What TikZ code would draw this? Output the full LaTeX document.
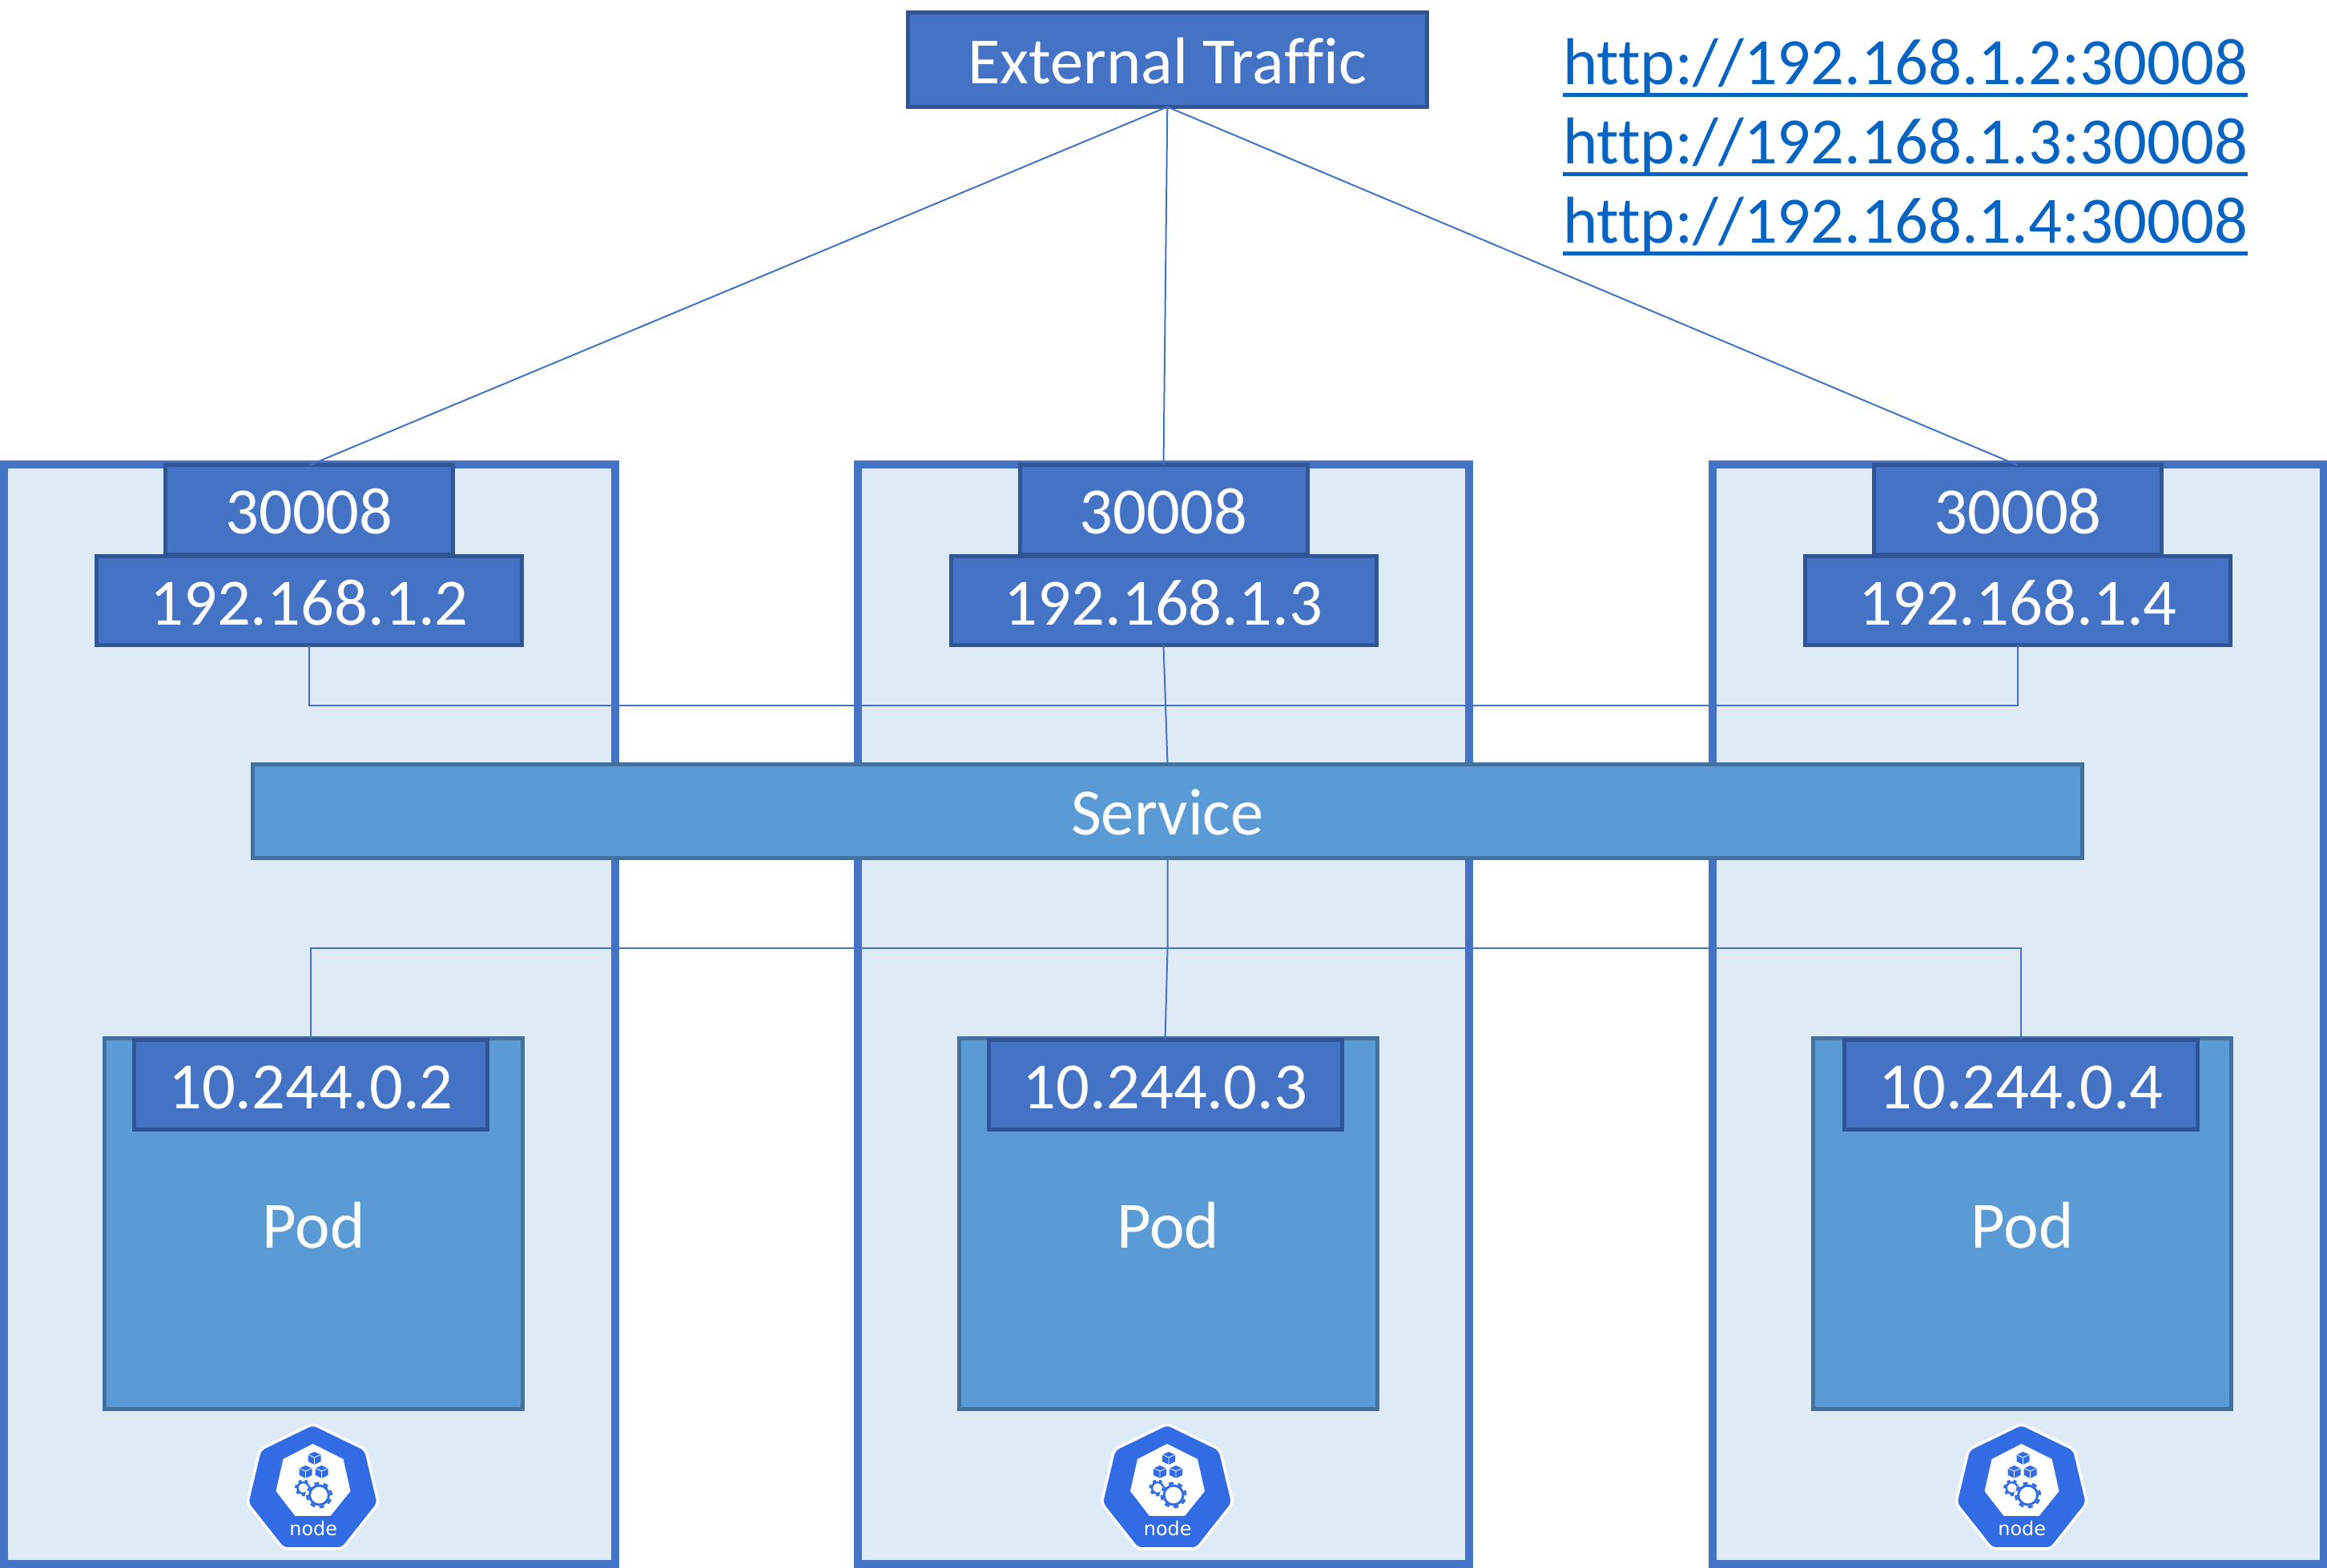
\documentclass[tikz,border=0pt]{standalone}
\usepackage{fontspec}
\usetikzlibrary{positioning}
\setmainfont[Ligatures=NoCommon]{Carlito}
\newfontfamily\iconfont{DejaVu Sans}
\definecolor{hostBlue}{RGB}{68, 114, 196}
\definecolor{hostEdge}{RGB}{47, 85, 151}
\definecolor{hostLight}{RGB}{222, 234, 246}
\definecolor{podBlue}{RGB}{91, 155, 213}
\definecolor{podEdge}{RGB}{65, 113, 156}
\definecolor{linkBlue}{RGB}{5, 99, 193}
\definecolor{iconBlue}{RGB}{50, 108, 229}
\newcommand{\linkline}[1]{\setbox0\hbox{#1}\rlap{\rule[-0.15cm]{\wd0}{0.05cm}}\box0}

\begin{document}
\begin{tikzpicture}[
        bigtext/.style={font=\fontsize{23.5pt}{28pt}\selectfont, text height=0.6cm, text depth=0cm},
        hostbox/.style={rectangle, draw=hostBlue, fill=hostLight, line width=0.1cm, outer sep=0pt, inner sep=0pt, minimum width=7.63cm, minimum height=13.73cm},
        ipbox/.style={rectangle, draw=hostEdge, fill=hostBlue, line width=0.05cm, outer sep=0pt, inner sep=0pt, text=white, bigtext},
        portbox/.style={ipbox, minimum width=3.59cm, minimum height=1.12cm},
        hostip/.style={ipbox, minimum width=5.31cm, minimum height=1.11cm},
        podip/.style={ipbox, minimum width=4.41cm, minimum height=1.12cm},
        podbox/.style={rectangle, draw=podEdge, fill=podBlue, line width=0.05cm, outer sep=0pt, inner sep=0pt, text=white, bigtext, minimum width=5.22cm, minimum height=4.635cm},
        linktext/.style={inner sep=0pt, outer sep=0pt, text=linkBlue, bigtext, text height=0.70cm, text depth=0.29cm},
        wire/.style={hostBlue, line width=0.02cm},
        iconcube/.pic={
            \fill[iconBlue] (0,0.08) -- (0.08,0.045) -- (0.08,-0.04) -- (0,-0.08) -- (-0.08,-0.04) -- (-0.08,0.045) -- cycle;
            \draw[white, line width=0.008cm] (-0.08,0.045) -- (0,0.01) -- (0.08,0.045) (0,0.01) -- (0,-0.08);
        },
        nodeicon/.pic={
            \draw[white, fill=iconBlue, line width=0.035cm, rounded corners=0.06cm] (0,0.82) -- (0.66,0.5) -- (0.82,-0.17) -- (0.37,-0.74) -- (-0.37,-0.74) -- (-0.82,-0.17) -- (-0.66,0.5) -- cycle;
            \fill[white] (0,0.57) -- (0.38,0.38) -- (0.47,-0.02) -- (0.22,-0.33) -- (-0.22,-0.33) -- (-0.46,-0.02) -- (-0.37,0.38) -- cycle;
            \pic at (0.02,0.39) {iconcube};
            \pic at (-0.09,0.22) {iconcube};
            \pic at (0.11,0.22) {iconcube};
            % Gears
            \draw[iconBlue, line width=0.03cm, dash pattern=on 0.04cm off 0.041cm] (-0.12,0.02) circle (0.09cm);
            \draw[iconBlue, line width=0.025cm] (-0.12,0.02) circle (0.07cm);
            \fill[white] (0.08,-0.07) circle (0.17cm);
            \draw[iconBlue, line width=0.03cm, dash pattern=on 0.06cm off 0.058cm] (0.08,-0.07) circle (0.15cm);
            \draw[iconBlue, line width=0.03cm] (0.08,-0.07) circle (0.12cm);
            \node[text=white, inner sep=0pt, anchor=base, font=\iconfont\fontsize{6.8pt}{8pt}\selectfont] (-label) at (0.007,-0.58) {node};
        }
    ]
        \useasboundingbox (0,0) rectangle (29.05,19.58);

        % Host nodes
        \node[hostbox] (hostOne) at (3.86,6.915) {};
        \node[hostbox, right=3.035cm of hostOne] (hostTwo) {};
        \node[hostbox, right=3.035cm of hostTwo] (hostThree) {};

        % Top nodes
        \node[ipbox, minimum width=6.475cm, minimum height=1.18cm] (traffic) at (14.573,18.835) {External Traffic};
        \node[linktext, anchor=north west] (linkOne) at (19.51,19.22) {\linkline{http://192.168.1.2:30008}};
        \node[linktext, below=0cm of linkOne] (linkTwo) {\linkline{http://192.168.1.3:30008}};
        \node[linktext, below=0cm of linkTwo] (linkThree) {\linkline{http://192.168.1.4:30008}};

        % Port nodes
        \node[portbox, below=0.01cm of hostOne.north] (portOne) {30008};
        \node[portbox, below=0.01cm of hostTwo.north] (portTwo) {30008};
        \node[portbox, below=0.01cm of hostThree.north] (portThree) {30008};
        \node[hostip, below=0.02cm of portOne] (ipOne) {192.168.1.2};
        \node[hostip, below=0.02cm of portTwo] (ipTwo) {192.168.1.3};
        \node[hostip, below=0.02cm of portThree] (ipThree) {192.168.1.4};

        % Pod nodes
        \node[podbox, above=1.93cm of hostOne.south, xshift=0.055cm] (podOne) {Pod};
        \node[podbox, above=1.93cm of hostTwo.south, xshift=0.055cm] (podTwo) {Pod};
        \node[podbox, above=1.93cm of hostThree.south, xshift=0.055cm] (podThree) {Pod};
        \node[podip, below=0.02cm of podOne.north, xshift=-0.035cm] (podipOne) {10.244.0.2};
        \node[podip, below=0.02cm of podTwo.north, xshift=-0.035cm] (podipTwo) {10.244.0.3};
        \node[podip, below=0.02cm of podThree.north, xshift=-0.015cm] (podipThree) {10.244.0.4};

        % Service bar
        \coordinate[below=1.485cm of ipTwo, xshift=0.05cm] (barTop);
        \coordinate[below=0.75cm of ipTwo, xshift=0.05cm] (busUpper);
        \coordinate[above=1.145cm of podipTwo, xshift=0.03cm] (busLower);

        % Wires
        \draw[wire] (traffic.south) -- (portOne.north);
        \draw[wire] (traffic.south) -- (portTwo.north);
        \draw[wire] (traffic.south) -- (portThree.north);
        \draw[wire] (ipOne.south) |- (busUpper);
        \draw[wire] (ipThree.south) |- (busUpper);
        \draw[wire] (ipTwo.south) -- (barTop);
        \draw[wire] (podipOne.north) |- (busLower);
        \draw[wire] (podipThree.north) |- (busLower);
        \draw[wire] (podipTwo.north) -- (busLower);
        \node[rectangle, draw=podEdge, fill=podBlue, line width=0.05cm, outer sep=0pt, inner sep=0pt, text=white, bigtext, minimum width=22.84cm, minimum height=1.17cm, below=0cm of barTop] (service) {Service};
        \draw[wire] (service.south) -- (busLower);

        % Icons
        \pic (iconOne) at ([xshift=-0.01cm, yshift=-1cm]podOne.south) {nodeicon};
        \pic (iconTwo) at ([xshift=-0.01cm, yshift=-1cm]podTwo.south) {nodeicon};
        \pic (iconThree) at ([xshift=-0.01cm, yshift=-1cm]podThree.south) {nodeicon};
\end{tikzpicture}
\end{document}
